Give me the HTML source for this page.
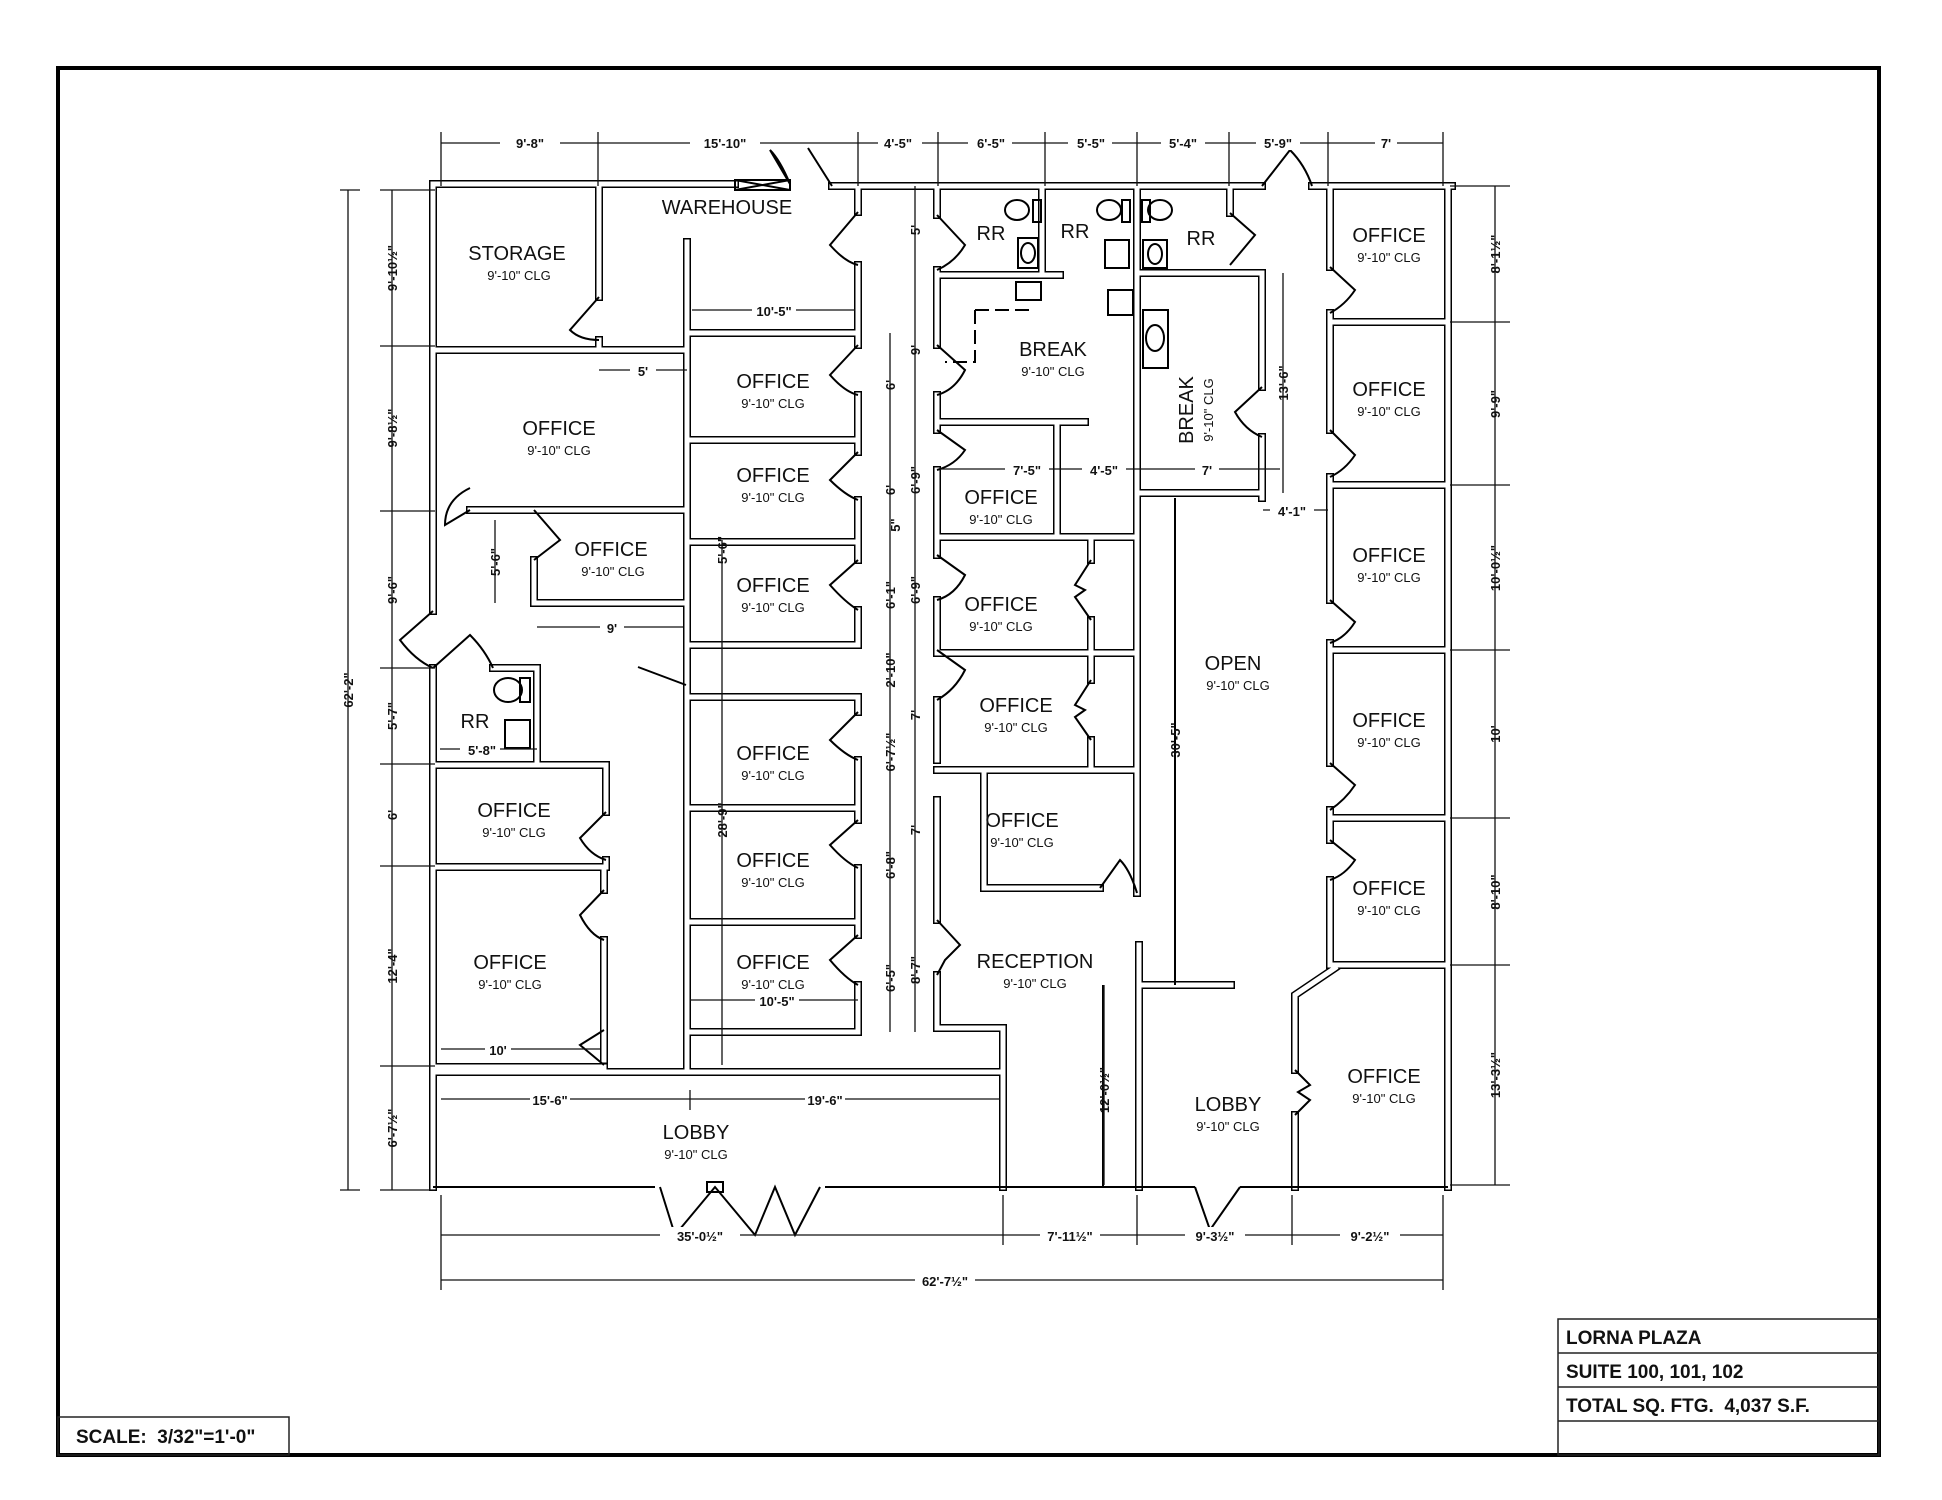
<!DOCTYPE html>
<html><head><meta charset="utf-8"><style>
html,body{margin:0;padding:0;background:#fff}
svg{display:block}
text{font-family:"Liberation Sans",sans-serif;fill:#111}
.r{font-size:20px;text-anchor:middle}
.c{font-size:13px;text-anchor:middle}
.d{font-size:13px;text-anchor:middle;font-weight:bold}
.t{font-size:19px;font-weight:bold}
</style></head><body>
<svg width="1942" height="1500" viewBox="0 0 1942 1500" xmlns="http://www.w3.org/2000/svg">
<defs>
<path id="w" d="
M433,184 H735 M832,186 H1262 M1312,186 H1452
M433,184 V611 M433,668 V1187
M1448,186 V1187
M599,184 V297 M599,340 V350 M433,350 H687
M687,242 V1072
M687,333 H858 M687,440 H858 M687,542 H858 M687,645 H858
M687,697 H858 M687,808 H858 M687,922 H858 M687,1032 H858
M858,186 V212 M858,265 V333 M858,333 V345 M858,395 V452 M858,500 V560 M858,610 V645
M858,697 V712 M858,760 V820 M858,868 V935 M858,985 V1032
M470,510 H687 M534,560 V603 M534,603 H687
M493,668 H537 V765 M433,765 H606 V812 M606,860 V867 M433,867 H606
M604,867 V890 M604,940 V1060 M433,1067 H604 M433,1072 H1003
M1003,1028 V1187 M942,1028 H1003
M937,186 V215 M937,270 V345 M937,395 V430 M937,470 V555 M937,600 V650 M937,700 V760 M937,800 V920 M937,975 V1028
M937,275 H1060 M1137,273 H1262 M1042,186 V275 M1137,186 V893 M1230,186 V213
M1262,273 V387 M1262,437 V498 M1137,493 H1262
M937,422 H1085 M1057,422 V533 M937,537 H1137
M1091,537 V560 M1091,620 V653 M937,653 H1137 M1091,653 V680 M1091,740 V770
M937,770 H1137 M984,770 V888 M984,888 H1100
M1139,945 V1187 M1139,985 H1231
M1330,186 V267 M1330,313 V430 M1330,477 V600 M1330,643 V763 M1330,810 V840 M1330,880 V965
M1330,322 H1448 M1330,485 H1448 M1330,650 H1448 M1330,818 H1448 M1330,965 H1448
M1335,968 L1295,995 V1070 M1295,1115 V1187
"/>
</defs>
<rect x="0" y="0" width="1942" height="1500" fill="#fff"/>
<rect x="58" y="68" width="1821" height="1387" fill="none" stroke="#000" stroke-width="4"/>
<g stroke="#222" stroke-width="1.5" fill="none">
<rect x="1558" y="1319" width="321" height="136"/>
<line x1="1558" y1="1353" x2="1879" y2="1353"/>
<line x1="1558" y1="1387" x2="1879" y2="1387"/>
<line x1="1558" y1="1421" x2="1879" y2="1421"/>
<rect x="58" y="1417" width="231" height="38"/>
</g>
<text class="t" x="1566" y="1344">LORNA PLAZA</text>
<text class="t" x="1566" y="1378">SUITE 100, 101, 102</text>
<text class="t" x="1566" y="1412">TOTAL SQ. FTG.&#160;&#160;4,037 S.F.</text>
<text class="t" x="76" y="1443">SCALE:&#160;&#160;3/32"=1'-0"</text>

<g fill="none" stroke-linecap="square">
<use href="#w" stroke="#000" stroke-width="8"/>
<use href="#w" stroke="#fff" stroke-width="5"/>
</g>
<g stroke="#000" stroke-width="2" fill="none">
<path d="M433,1187 H655 M825,1187 H1195 M1240,1187 H1448"/>
<line x1="1175" y1="498" x2="1175" y2="985"/>
<line x1="1103" y1="985" x2="1103" y2="1187"/>
<path d="M638,667 L686,685"/>
<path d="M735,180 L790,180 L790,190 L735,190 Z M735,180 L790,190 M735,190 L790,180"/>
<path d="M790,184 L770,150 Q780,160 790,184 M832,186 L808,148"/>
<path d="M1262,186 L1290,150 Q1305,165 1312,186"/>
<path d="M599,297 L570,330 Q580,340 599,340"/>
<path d="M858,212 L830,245 Q845,262 858,265"/>
<path d="M858,345 L830,375 Q845,392 858,395"/>
<path d="M858,452 L830,480 Q845,495 858,500"/>
<path d="M858,560 L830,585 Q845,602 858,610"/>
<path d="M858,712 L830,740 Q845,755 858,760"/>
<path d="M858,820 L830,845 Q845,862 858,868"/>
<path d="M858,935 L830,960 Q845,978 858,985"/>
<path d="M937,215 L965,245 Q955,262 937,270"/>
<path d="M937,345 L965,370 Q955,390 937,395"/>
<path d="M937,430 L965,450 Q955,465 937,470"/>
<path d="M937,555 L965,575 Q955,595 937,600"/>
<path d="M937,650 L965,670 Q955,690 937,700"/>
<path d="M937,920 L960,945 L945,960 L937,975"/>
<path d="M1330,267 L1355,290 Q1345,305 1330,313"/>
<path d="M1330,430 L1355,455 Q1345,470 1330,477"/>
<path d="M1330,600 L1355,622 Q1345,638 1330,643"/>
<path d="M1330,763 L1355,785 Q1345,800 1330,810"/>
<path d="M1330,840 L1355,860 Q1345,875 1330,880"/>
<path d="M1295,1070 L1310,1085 L1298,1092 L1310,1100 L1295,1115"/>
<path d="M1091,560 L1075,585 L1085,590 L1075,597 L1091,620"/>
<path d="M1091,680 L1075,705 L1085,710 L1075,717 L1091,740"/>
<path d="M1230,213 L1255,235 L1230,265"/>
<path d="M1262,387 L1235,412 Q1245,430 1262,437"/>
<path d="M1100,888 L1120,860 Q1130,870 1137,893"/>
<path d="M433,611 L400,640 Q415,660 433,668"/>
<path d="M433,668 L470,635 Q485,650 493,668"/>
<path d="M470,510 L445,525 Q445,500 470,488"/>
<path d="M534,510 L560,540 L534,560"/>
<path d="M606,812 L580,838 Q590,855 606,860"/>
<path d="M604,890 L580,915 Q590,935 604,940"/>
<path d="M604,1030 L580,1045 L604,1065"/>
<path d="M660,1187 L675,1235 L715,1187 L755,1235 L775,1187 L795,1235 L820,1187"/>
<rect x="707" y="1182" width="16" height="10"/>
<path d="M1195,1187 L1210,1230 L1240,1187"/>
<ellipse cx="1017" cy="210" rx="12" ry="10"/><rect x="1033" y="200" width="8" height="22"/>
<ellipse cx="1109" cy="210" rx="12" ry="10"/><rect x="1122" y="200" width="8" height="22"/>
<ellipse cx="1160" cy="210" rx="12" ry="10"/><rect x="1142" y="200" width="8" height="22"/>
<rect x="1018" y="238" width="20" height="30"/><ellipse cx="1028" cy="253" rx="7" ry="10"/>
<rect x="1105" y="240" width="24" height="28"/>
<rect x="1143" y="240" width="24" height="28"/><ellipse cx="1155" cy="254" rx="7" ry="10"/>
<rect x="1016" y="282" width="25" height="18"/>
<rect x="1108" y="290" width="25" height="25"/>
<rect x="1143" y="310" width="25" height="58"/><ellipse cx="1155" cy="338" rx="9" ry="13"/>
<path d="M975,310 H1035 M975,310 V362 H945" stroke-dasharray="14,6"/>
<ellipse cx="508" cy="690" rx="14" ry="12"/><rect x="520" y="678" width="10" height="24"/>
<rect x="505" y="720" width="25" height="28"/>
</g>
<g stroke="#111" stroke-width="1.3" fill="none">
<line x1="441" y1="143" x2="1443" y2="143"/>
<path d="M441,132 V186 M598,132 V186 M858,132 V186 M938,132 V186 M1045,132 V186 M1137,132 V186 M1229,132 V186 M1328,132 V186 M1443,132 V186"/>
<line x1="348" y1="190" x2="348" y2="1190"/>
<path d="M340,190 H360 M340,1190 H360"/>
<line x1="392" y1="190" x2="392" y2="1190"/>
<path d="M380,190 H435 M380,346 H435 M380,511 H435 M380,668 H435 M380,764 H435 M380,866 H435 M380,1066 H435 M380,1190 H435"/>
<line x1="1495" y1="186" x2="1495" y2="1185"/>
<path d="M1450,186 H1510 M1450,322 H1510 M1450,485 H1510 M1450,650 H1510 M1450,818 H1510 M1450,965 H1510 M1450,1185 H1510"/>
<line x1="441" y1="1235" x2="1443" y2="1235"/>
<path d="M441,1195 V1290 M1003,1195 V1245 M1137,1195 V1245 M1292,1195 V1245 M1443,1195 V1290"/>
<line x1="441" y1="1280" x2="1443" y2="1280"/>
<line x1="441" y1="1099" x2="1000" y2="1099"/><path d="M690,1090 V1110"/>
<line x1="441" y1="1049" x2="600" y2="1049"/>
<line x1="690" y1="1000" x2="858" y2="1000"/>
<line x1="722" y1="540" x2="722" y2="1065"/>
<line x1="1104" y1="985" x2="1104" y2="1185"/>
<line x1="1283" y1="273" x2="1283" y2="493"/>
<line x1="692" y1="310" x2="855" y2="310"/>
<line x1="599" y1="370" x2="687" y2="370"/>
<line x1="537" y1="627" x2="683" y2="627"/>
<line x1="495" y1="520" x2="495" y2="603"/>
<line x1="440" y1="749" x2="537" y2="749"/>
<line x1="890" y1="333" x2="890" y2="1032"/>
<line x1="915" y1="186" x2="915" y2="1032"/>
<line x1="940" y1="469" x2="1280" y2="469"/>
<line x1="1263" y1="510" x2="1328" y2="510"/>
</g>
<g>
<rect x="500" y="134" width="60" height="16" fill="#fff"/><text class="d" x="530" y="148">9'-8"</text>
<rect x="690" y="134" width="70" height="16" fill="#fff"/><text class="d" x="725" y="148">15'-10"</text>
<rect x="878" y="134" width="44" height="16" fill="#fff"/><text class="d" x="898" y="148">4'-5"</text>
<rect x="968" y="134" width="44" height="16" fill="#fff"/><text class="d" x="991" y="148">6'-5"</text>
<rect x="1068" y="134" width="44" height="16" fill="#fff"/><text class="d" x="1091" y="148">5'-5"</text>
<rect x="1161" y="134" width="44" height="16" fill="#fff"/><text class="d" x="1183" y="148">5'-4"</text>
<rect x="1256" y="134" width="44" height="16" fill="#fff"/><text class="d" x="1278" y="148">5'-9"</text>
<rect x="1375" y="134" width="22" height="16" fill="#fff"/><text class="d" x="1386" y="148">7'</text>
<rect x="660" y="1227" width="80" height="16" fill="#fff"/><text class="d" x="700" y="1241">35'-0½"</text>
<rect x="1040" y="1227" width="60" height="16" fill="#fff"/><text class="d" x="1070" y="1241">7'-11½"</text>
<rect x="1185" y="1227" width="60" height="16" fill="#fff"/><text class="d" x="1215" y="1241">9'-3½"</text>
<rect x="1340" y="1227" width="60" height="16" fill="#fff"/><text class="d" x="1370" y="1241">9'-2½"</text>
<rect x="915" y="1272" width="60" height="16" fill="#fff"/><text class="d" x="945" y="1286">62'-7½"</text>
<rect x="530" y="1091" width="40" height="16" fill="#fff"/><text class="d" x="550" y="1105">15'-6"</text>
<rect x="805" y="1091" width="40" height="16" fill="#fff"/><text class="d" x="825" y="1105">19'-6"</text>
<rect x="485" y="1041" width="26" height="16" fill="#fff"/><text class="d" x="498" y="1055">10'</text>
<rect x="755" y="992" width="44" height="16" fill="#fff"/><text class="d" x="777" y="1006">10'-5"</text>
<rect x="752" y="302" width="44" height="16" fill="#fff"/><text class="d" x="774" y="316">10'-5"</text>
<rect x="630" y="362" width="26" height="16" fill="#fff"/><text class="d" x="643" y="376">5'</text>
<rect x="600" y="619" width="24" height="16" fill="#fff"/><text class="d" x="612" y="633">9'</text>
<rect x="460" y="741" width="40" height="16" fill="#fff"/><text class="d" x="482" y="755">5'-8"</text>
<rect x="1005" y="461" width="44" height="16" fill="#fff"/><text class="d" x="1027" y="475">7'-5"</text>
<rect x="1082" y="461" width="44" height="16" fill="#fff"/><text class="d" x="1104" y="475">4'-5"</text>
<rect x="1195" y="461" width="24" height="16" fill="#fff"/><text class="d" x="1207" y="475">7'</text>
<rect x="1270" y="502" width="44" height="16" fill="#fff"/><text class="d" x="1292" y="516">4'-1"</text>
</g>
<g>
<text class="d" transform="translate(353,690) rotate(-90)">62'-2"</text>
<text class="d" transform="translate(397,268) rotate(-90)">9'-10½"</text>
<text class="d" transform="translate(397,428) rotate(-90)">9'-8½"</text>
<text class="d" transform="translate(397,590) rotate(-90)">9'-6"</text>
<text class="d" transform="translate(397,716) rotate(-90)">5'-7"</text>
<text class="d" transform="translate(397,815) rotate(-90)">6'</text>
<text class="d" transform="translate(397,966) rotate(-90)">12'-4"</text>
<text class="d" transform="translate(397,1128) rotate(-90)">6'-7½"</text>
<text class="d" transform="translate(1500,254) rotate(-90)">8'-1½"</text>
<text class="d" transform="translate(1500,404) rotate(-90)">9'-9"</text>
<text class="d" transform="translate(1500,568) rotate(-90)">10'-0½"</text>
<text class="d" transform="translate(1500,734) rotate(-90)">10'</text>
<text class="d" transform="translate(1500,892) rotate(-90)">8'-10"</text>
<text class="d" transform="translate(1500,1075) rotate(-90)">13'-3½"</text>
<text class="d" transform="translate(1288,383) rotate(-90)">13'-6"</text>
<text class="d" transform="translate(1180,740) rotate(-90)">30'-5"</text>
<text class="d" transform="translate(1109,1090) rotate(-90)">12'-0½"</text>
<text class="d" transform="translate(727,820) rotate(-90)">28'-9"</text>
<text class="d" transform="translate(500,562) rotate(-90)">5'-6"</text>
<text class="d" transform="translate(727,550) rotate(-90)">5'-6"</text>
<text class="d" transform="translate(895,385) rotate(-90)">6'</text>
<text class="d" transform="translate(895,490) rotate(-90)">6'</text>
<text class="d" transform="translate(895,595) rotate(-90)">6'-1"</text>
<text class="d" transform="translate(895,670) rotate(-90)">2'-10"</text>
<text class="d" transform="translate(895,752) rotate(-90)">6'-7½"</text>
<text class="d" transform="translate(895,865) rotate(-90)">6'-8"</text>
<text class="d" transform="translate(895,978) rotate(-90)">6'-5"</text>
<text class="d" transform="translate(920,230) rotate(-90)">5'</text>
<text class="d" transform="translate(920,350) rotate(-90)">9'</text>
<text class="d" transform="translate(920,480) rotate(-90)">6'-9"</text>
<text class="d" transform="translate(900,525) rotate(-90)">5"</text>
<text class="d" transform="translate(920,590) rotate(-90)">6'-9"</text>
<text class="d" transform="translate(920,715) rotate(-90)">7'</text>
<text class="d" transform="translate(920,830) rotate(-90)">7'</text>
<text class="d" transform="translate(920,970) rotate(-90)">8'-7"</text>
</g>
<text class="r" x="517" y="260">STORAGE</text><text class="c" x="519" y="280">9'-10" CLG</text>
<text class="r" x="727" y="214">WAREHOUSE</text>
<text class="r" x="773" y="388">OFFICE</text><text class="c" x="773" y="408">9'-10" CLG</text>
<text class="r" x="773" y="482">OFFICE</text><text class="c" x="773" y="502">9'-10" CLG</text>
<text class="r" x="773" y="592">OFFICE</text><text class="c" x="773" y="612">9'-10" CLG</text>
<text class="r" x="773" y="760">OFFICE</text><text class="c" x="773" y="780">9'-10" CLG</text>
<text class="r" x="773" y="867">OFFICE</text><text class="c" x="773" y="887">9'-10" CLG</text>
<text class="r" x="773" y="969">OFFICE</text><text class="c" x="773" y="989">9'-10" CLG</text>
<text class="r" x="559" y="435">OFFICE</text><text class="c" x="559" y="455">9'-10" CLG</text>
<text class="r" x="611" y="556">OFFICE</text><text class="c" x="613" y="576">9'-10" CLG</text>
<text class="r" x="475" y="728">RR</text>
<text class="r" x="514" y="817">OFFICE</text><text class="c" x="514" y="837">9'-10" CLG</text>
<text class="r" x="510" y="969">OFFICE</text><text class="c" x="510" y="989">9'-10" CLG</text>
<text class="r" x="696" y="1139">LOBBY</text><text class="c" x="696" y="1159">9'-10" CLG</text>
<text class="r" x="991" y="240">RR</text><text class="r" x="1075" y="238">RR</text><text class="r" x="1201" y="245">RR</text>
<text class="r" x="1053" y="356">BREAK</text><text class="c" x="1053" y="376">9'-10" CLG</text>
<text class="r" transform="translate(1193,410) rotate(-90)">BREAK</text>
<text class="c" transform="translate(1213,410) rotate(-90)">9'-10" CLG</text>
<text class="r" x="1001" y="504">OFFICE</text><text class="c" x="1001" y="524">9'-10" CLG</text>
<text class="r" x="1001" y="611">OFFICE</text><text class="c" x="1001" y="631">9'-10" CLG</text>
<text class="r" x="1016" y="712">OFFICE</text><text class="c" x="1016" y="732">9'-10" CLG</text>
<text class="r" x="1022" y="827">OFFICE</text><text class="c" x="1022" y="847">9'-10" CLG</text>
<text class="r" x="1035" y="968">RECEPTION</text><text class="c" x="1035" y="988">9'-10" CLG</text>
<text class="r" x="1233" y="670">OPEN</text><text class="c" x="1238" y="690">9'-10" CLG</text>
<text class="r" x="1228" y="1111">LOBBY</text><text class="c" x="1228" y="1131">9'-10" CLG</text>
<text class="r" x="1389" y="242">OFFICE</text><text class="c" x="1389" y="262">9'-10" CLG</text>
<text class="r" x="1389" y="396">OFFICE</text><text class="c" x="1389" y="416">9'-10" CLG</text>
<text class="r" x="1389" y="562">OFFICE</text><text class="c" x="1389" y="582">9'-10" CLG</text>
<text class="r" x="1389" y="727">OFFICE</text><text class="c" x="1389" y="747">9'-10" CLG</text>
<text class="r" x="1389" y="895">OFFICE</text><text class="c" x="1389" y="915">9'-10" CLG</text>
<text class="r" x="1384" y="1083">OFFICE</text><text class="c" x="1384" y="1103">9'-10" CLG</text>
</svg>
</body></html>
